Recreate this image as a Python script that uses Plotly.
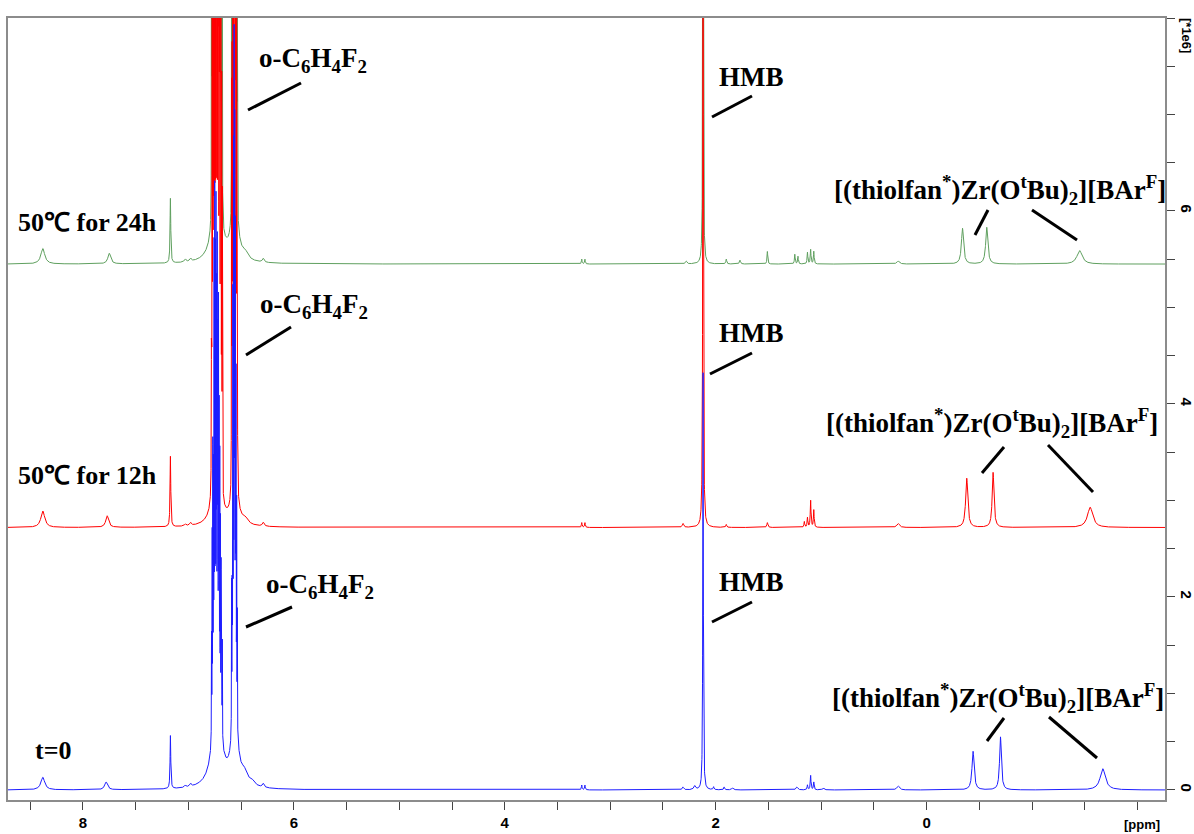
import numpy as np
import plotly.graph_objects as go

# ---------------- data: peak tables (ppm, height [1e6], half-width [ppm])
# o-C6H4F2 multiplet lines (shared positions, per-spectrum heights)
cluster_ppm = [6.780, 6.774, 6.768, 6.762, 6.756, 6.750, 6.744, 6.738, 6.732, 6.726, 6.720, 6.714, 6.708, 6.702,
               6.696, 6.690, 6.684, 6.678,
               6.590, 6.584, 6.578, 6.572, 6.566, 6.560, 6.554, 6.548, 6.542, 6.536]
blue_cluster = [1.2, 2.0, 2.8, 3.6, 4.6, 5.1, 4.4, 4.9, 4.0, 4.5, 3.6, 4.0, 3.0, 2.6, 2.0, 1.7, 1.4, 1.0,
                1.5, 2.8, 4.2, 5.6, 6.7, 5.8, 4.8, 3.4, 2.2, 1.2]
red_cluster = [4.0, 6.0, 8.0, 9.0, 10.0, 9.0, 10.0, 9.0, 10.0, 9.0, 10.0, 9.0, 8.0, 7.0, 6.0, 5.0, 4.0, 3.0,
               4.0, 6.0, 8.0, 9.0, 10.0, 9.0, 8.0, 7.0, 6.0, 4.0]
green_cluster = [4.0, 6.0, 7.0, 8.0, 9.0, 8.0, 9.0, 8.0, 9.0, 8.0, 9.0, 8.0, 7.0, 6.0, 5.0, 4.0, 3.5, 3.0,
                 3.0, 5.0, 7.0, 8.0, 9.0, 8.0, 7.0, 6.0, 5.0, 3.0]
cluster_hwhm = 0.0012

green_ppm = [8.38, 7.75, 7.17, 7.03, 6.98, 6.73, 6.56, 6.46, 6.29, 3.27, 3.24,
             2.28, 2.12, 1.90, 1.77, 1.51, 1.25, 1.22, 1.13, 1.10, 1.07, 0.27, -0.34, -0.57, -1.45]
green_height = [0.16, 0.11, 0.67, 0.03, 0.03, 0.60, 0.45, 0.06, 0.04, 0.05, 0.05,
                0.03, 6.0, 0.05, 0.04, 0.13, 0.10, 0.08, 0.12, 0.15, 0.13, 0.03, 0.37, 0.38, 0.14]
green_hwhm = [0.022, 0.016, 0.004, 0.01, 0.01, 0.05, 0.04, 0.03, 0.01, 0.004, 0.004,
              0.008, 0.003, 0.005, 0.006, 0.004, 0.004, 0.004, 0.004, 0.004, 0.004, 0.015, 0.012, 0.012, 0.03]

red_ppm = [8.38, 7.77, 7.17, 7.03, 6.98, 6.73, 6.56, 6.46, 6.29, 3.27, 3.24,
           2.31, 2.12, 1.90, 1.51, 1.16, 1.13, 1.10, 1.07, 0.27, -0.38, -0.63, -1.55]
red_height = [0.17, 0.12, 0.73, 0.02, 0.03, 0.40, 0.30, 0.05, 0.04, 0.05, 0.05,
              0.04, 8.0, 0.03, 0.05, 0.06, 0.10, 0.28, 0.18, 0.04, 0.51, 0.57, 0.21]
red_hwhm = [0.022, 0.016, 0.004, 0.01, 0.01, 0.05, 0.04, 0.03, 0.01, 0.004, 0.004,
            0.008, 0.003, 0.005, 0.006, 0.004, 0.004, 0.004, 0.004, 0.015, 0.012, 0.010, 0.03]

blue_ppm = [8.38, 7.78, 7.17, 7.03, 6.98, 6.73, 6.56, 6.47, 6.40, 6.29, 3.27, 3.24,
            2.31, 2.20, 2.12, 2.02, 1.92, 1.84, 1.23, 1.13, 1.10, 1.07, 0.98, 0.27, -0.44, -0.70, -1.67]
blue_height = [0.13, 0.08, 0.55, 0.02, 0.03, 0.80, 0.60, 0.10, 0.05, 0.04, 0.05, 0.05,
               0.03, 0.04, 4.4, 0.03, 0.03, 0.02, 0.03, 0.05, 0.15, 0.08, 0.02, 0.04, 0.40, 0.55, 0.22]
blue_hwhm = [0.022, 0.016, 0.004, 0.01, 0.01, 0.05, 0.04, 0.03, 0.03, 0.01, 0.004, 0.004,
             0.008, 0.01, 0.003, 0.005, 0.005, 0.01, 0.01, 0.004, 0.004, 0.004, 0.01, 0.015, 0.012, 0.010, 0.03]

offsets = {"green": 5.45, "red": 2.72, "blue": 0.0}
colors = {"green": "rgb(95,160,95)", "red": "rgb(255,0,0)", "blue": "rgb(30,30,255)"}

x_tick_vals = [8, 6, 4, 2, 0]
y_tick_vals = [0, 2, 4, 6]

# ---------------- sampling grid (finer where the multiplet lines are)
grid = np.unique(np.concatenate([np.arange(-2.262, 8.712, 0.0008),
                                 np.arange(6.50, 6.82, 0.0002)]))[::-1]


def spectrum(ppm, height, hwhm, cl_height, offset):
    y = np.full_like(grid, offset)
    for p, h, w in zip(ppm, height, hwhm):
        y += h / (1.0 + ((grid - p) / w) ** 2)
    for p, h in zip(cluster_ppm, cl_height):
        y += h / (1.0 + ((grid - p) / cluster_hwhm) ** 2)
    return np.round(y, 4)


fig = go.Figure()
for name, (p, h, w, c) in [("green", (green_ppm, green_height, green_hwhm, green_cluster)),
                           ("red", (red_ppm, red_height, red_hwhm, red_cluster)),
                           ("blue", (blue_ppm, blue_height, blue_hwhm, blue_cluster))]:
    fig.add_trace(go.Scatter(x=np.round(grid, 4), y=spectrum(p, h, w, c, offsets[name]), mode="lines",
                             line=dict(color=colors[name], width=1), showlegend=False, hoverinfo="skip"))

# ---------------- layout helpers (pixel -> paper)
L, R, T, B = 8, 1165, 18, 800


def px(x):
    return (x - L) / (R - L)


def py(y):
    return (B - y) / (B - T)


SERIF = "Liberation Serif, Times New Roman, serif"
SANS = "Liberation Sans, Arial, sans-serif"

annotations = []


def label(text, x, y, size=26, anchor="left"):
    annotations.append(dict(text="<b>" + text + "</b>", x=px(x), y=py(y), xref="paper", yref="paper",
                            xanchor=anchor, yanchor="middle", showarrow=False,
                            font=dict(family=SERIF, size=size, color="black")))


label("50℃ for 24h", 16, 222, 26)
label("50℃ for 12h", 16, 475, 26)
label("t=0", 33, 750, 26)

oc = "o-C<sub>6</sub>H<sub>4</sub>F<sub>2</sub>"
label(oc, 257, 60, 27)
label(oc, 258, 306, 27)
label(oc, 264, 586, 27)

label("HMB", 717, 77, 27)
label("HMB", 717, 333, 27)
label("HMB", 717, 582, 27)

zr = "[(thiolfan<sup>*</sup>)Zr(O<sup>t</sup>Bu)<sub>2</sub>][BAr<sup>F</sup>]"
label(zr, 832, 190, 27)
label(zr, 824, 423, 27)
label(zr, 830, 698, 27)

# axis unit labels
annotations.append(dict(text="<b>[ppm]</b>", x=px(1142), y=py(824), xref="paper", yref="paper",
                        xanchor="center", yanchor="middle", showarrow=False,
                        font=dict(family=SANS, size=13, color="black")))
annotations.append(dict(text="<b>[*1e6]</b>", x=px(1186), y=py(36), xref="paper", yref="paper",
                        xanchor="center", yanchor="middle", showarrow=False, textangle=90,
                        font=dict(family=SANS, size=13, color="black")))

pointers = [
    ((301, 83), (248, 110)), ((291, 327), (246, 355)), ((292, 607), (246, 627)),
    ((752, 96), (712, 117)), ((752, 353), (710, 374)), ((752, 602), (712, 622)),
    ((988, 210), (975, 235)), ((1032, 210), (1077, 240)),
    ((1004, 447), (982, 473)), ((1048, 445), (1093, 492)),
    ((1004, 718), (987, 741)), ((1049, 717), (1097, 758)),
]
shapes = [dict(type="line", xref="paper", yref="paper", x0=px(a[0]), y0=py(a[1]), x1=px(b[0]), y1=py(b[1]),
               line=dict(color="black", width=3)) for a, b in pointers]

fig.update_layout(
    width=1194, height=834,
    margin=dict(l=L, r=1194 - R, t=T, b=834 - B, autoexpand=False),
    paper_bgcolor="white", plot_bgcolor="white",
    annotations=annotations, shapes=shapes,
    xaxis=dict(range=[8.71, -2.26], tickvals=x_tick_vals,
               ticktext=["<b>%g</b>" % v for v in x_tick_vals],
               ticks="outside", ticklen=8, tickcolor="#444", tickwidth=1,
               minor=dict(dtick=0.5, tick0=0, ticks="outside", ticklen=8, tickcolor="#444", tickwidth=1),
               showline=True, linecolor="#8c8c8c", linewidth=1.5, mirror=True,
               showgrid=False, zeroline=False, automargin=False,
               tickfont=dict(family=SANS, size=15, color="black")),
    yaxis=dict(range=[-0.104, 8.0], side="right", tickvals=y_tick_vals,
               ticktext=["<b>%g</b>" % v for v in y_tick_vals],
               ticks="outside", ticklen=8, tickcolor="#444", tickwidth=1, tickangle=90,
               minor=dict(dtick=0.5, tick0=0, ticks="outside", ticklen=8, tickcolor="#444", tickwidth=1),
               showline=True, linecolor="#8c8c8c", linewidth=1.5, mirror=True,
               showgrid=False, zeroline=False, automargin=False,
               tickfont=dict(family=SANS, size=15, color="black")),
)

fig.write_html("out.html", config={"displayModeBar": False},
               post_script="document.body.style.margin='0';document.body.style.overflow='hidden';")
